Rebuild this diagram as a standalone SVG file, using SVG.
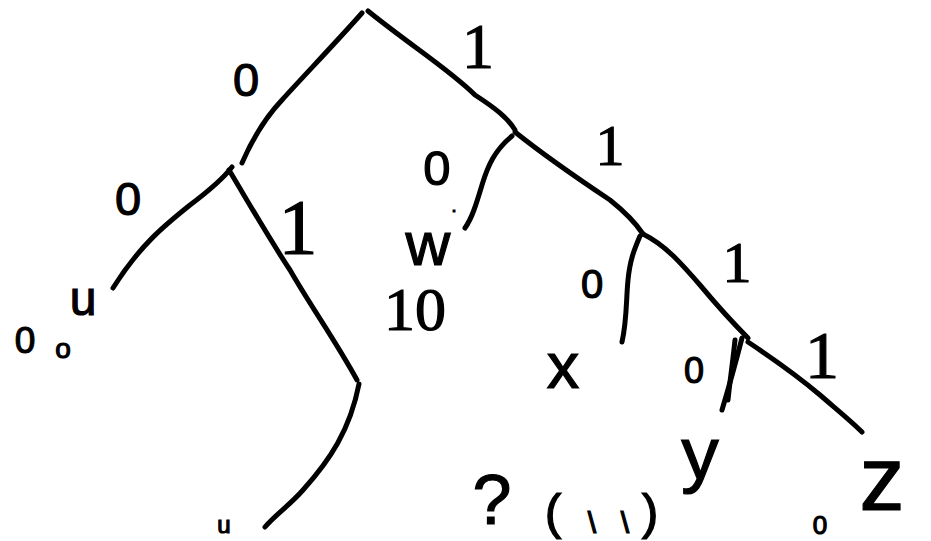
<svg xmlns="http://www.w3.org/2000/svg" width="931" height="541" viewBox="0 0 931 541">
<style>
  .e { fill: none; stroke: #000; stroke-width: 5; stroke-linecap: round; stroke-linejoin: round; }
  .t { font-family: "Liberation Sans", "DejaVu Sans", sans-serif; fill: #000; stroke: #000; stroke-width: 1.2; text-anchor: middle; }
  .one { font-family: "Liberation Serif", "DejaVu Serif", serif; fill: #000; stroke: #000; stroke-width: 1.2; text-anchor: middle; }
</style>
<rect width="931" height="541" fill="#fff"/>
<g id="connectors">
  <path class="e" d="M362,13 C340,38 300,80 282,100 C265,118 252,140 242,163"/>
  <path class="e" d="M368,11 C410,45 450,70 475,95 C495,108 508,118 515,130"/>
  <path class="e" d="M232,167 C222,180 210,190 190,205 C165,225 140,245 113,288"/>
  <path class="e" d="M229,170 C250,205 270,240 290,270 C310,305 335,340 357,380"/>
  <path class="e" d="M359,384 C350,430 330,460 303,490 C290,505 275,515 265,527"/>
  <path class="e" d="M512,136 C495,150 488,165 482,185 C476,205 472,218 465,228"/>
  <path class="e" d="M515,132 C550,160 580,180 610,200 C625,212 635,222 643,234"/>
  <path class="e" d="M640,236 C634,250 630,260 628,280 C626,300 627,320 622,342"/>
  <path class="e" d="M643,234 C665,245 680,262 700,285 C715,303 730,320 748,338"/>
  <path class="e" d="M735,340 C733,360 730,380 728,400"/>
  <path class="e" d="M742,338 C735,365 728,390 722,410"/>
  <path class="e" d="M748,342 C775,360 800,378 820,395 C835,408 850,420 862,432"/>
</g>
<g id="label-root-0"><text class="t" x="246" y="96" font-size="47">0</text></g>
<g id="label-root-1"><text class="one" x="478" y="68" font-size="64">1</text></g>
<g id="label-00"><text class="t" x="128" y="215" font-size="47">0</text></g>
<g id="label-01"><text class="one" x="298" y="253" font-size="78">1</text></g>
<g id="leaf-u"><text class="t" x="83" y="315" font-size="48">u</text><text class="t" x="25" y="353" font-size="37">0</text><text class="t" x="63" y="358" font-size="28">o</text></g>
<g id="label-10"><text class="t" x="437" y="185" font-size="49">0</text><text class="t" x="454" y="212" font-size="18">.</text></g>
<g id="leaf-w"><text class="t" x="428" y="265" font-size="62">w</text></g>
<g id="label-ten"><text class="one" x="415" y="330" font-size="62">10</text></g>
<g id="label-11"><text class="one" x="610" y="165" font-size="58">1</text></g>
<g id="label-110"><text class="t" x="592" y="298" font-size="40">0</text></g>
<g id="leaf-x"><text class="t" x="563" y="388" font-size="65">x</text></g>
<g id="label-111"><text class="one" x="737" y="282" font-size="58">1</text></g>
<g id="label-1110"><text class="t" x="694" y="383" font-size="36">0</text></g>
<g id="leaf-y"><text class="t" x="700" y="479" font-size="75">y</text></g>
<g id="label-1111"><text class="one" x="822" y="378" font-size="68">1</text></g>
<g id="leaf-z"><text class="t" x="882" y="510" font-size="90">z</text></g>
<g id="leaf-bottom"><text class="t" x="224" y="533" font-size="24">u</text></g>
<g id="bottom-text">
  <text class="t" x="492" y="524" font-size="70">?</text>
  <text class="t" x="553" y="529" font-size="50">(</text>
  <text class="t" x="592" y="533" font-size="30">\</text>
  <text class="t" x="625" y="533" font-size="30">\</text>
  <text class="t" x="650" y="529" font-size="50">)</text>
  <text class="t" x="820" y="534" font-size="26">0</text>
</g>
</svg>
